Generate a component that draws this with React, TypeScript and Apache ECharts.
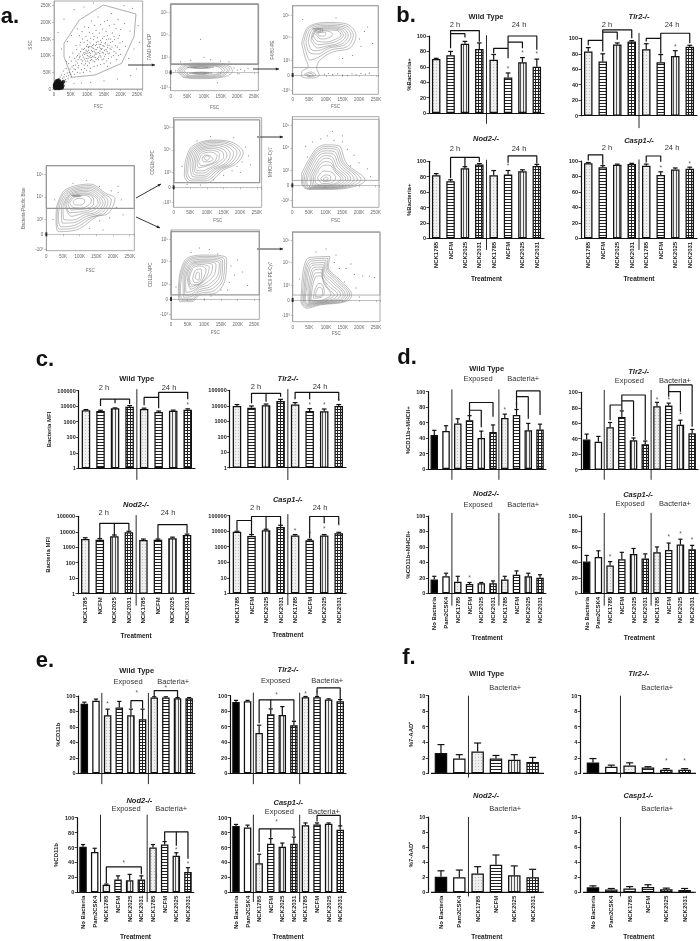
import React, { useEffect, useRef } from "react";
import * as echarts from "echarts";

const SANS = "Liberation Sans, Arial, sans-serif";

// ---------- categories ----------
const catsStrains = ["NCK1785", "NCFM", "NCK2025", "NCK2031", "NCK1785", "NCFM", "NCK2025", "NCK2031"];
const catsControls = ["No Bacteria", "Pam2CSK4", "NCK1785", "NCFM", "NCK2025", "NCK2031", "NCK1785", "NCFM", "NCK2025", "NCK2031"];
const catsShort = ["No Bacteria", "Pam2CSK4", "NCK1785", "NCFM", "NCK2025", "NCK2031"];

// ---------- b. %Bacteria+ ----------
const bWtMeans = [70, 75, 90, 83, 69, 46, 66, 60];
const bWtTops = [71, 80, 93, 91, 76, 52, 72, 70];
const bWtBrackets = [[[1, 84], [1, 107], [3, 107], [3, 92.6]], [[1, 103], [2, 103], [2, 98]], [[4, 77.5], [4, 84], [5, 84]], [[5, 71], [5, 100], [7, 100], [7, 82]], [[5, 92], [6, 92], [6, 84]]];
const bWtStars = [[5, 58], [6, 78], [7, 77]];
const bTlrMeans = [83, 70, 92, 96, 86, 69, 77, 89];
const bTlrTops = [88, 80, 94, 97, 93, 79, 84, 91];
const bTlrBrackets = [[[0, 91], [0, 97.4], [1, 97.4]], [[1, 83], [1, 111], [3, 111], [3, 100]], [[1, 108], [2, 108], [2, 98]], [[4, 96], [4, 100], [5, 100]], [[5, 80], [5, 106.5], [7, 106.5], [7, 93.5]]];
const bTlrStars = [[6, 90]];
const bNodMeans = [82, 74, 91, 96, 82, 83, 87, 94];
const bNodTops = [84, 76, 93, 97, 88, 88, 89, 96];
const bNodBrackets = [[[1, 78], [1, 105], [3, 105], [3, 99]], [[2, 105], [2, 93]], [[5, 98], [5, 107], [7, 107], [7, 97]]];
const bNodStars = [[5, 94]];
const bCasMeans = [97, 92, 95, 96, 94, 82, 89, 90];
const bCasTops = [98, 94, 96, 97, 96, 86, 91, 92];
const bCasBrackets = [[[0, 100.5], [0, 108], [1, 108], [1, 95]], [[4, 98], [4, 106.5], [5, 106.5], [5, 99]]];
const bCasStars = [[5, 91], [7, 97]];

// ---------- c. Bacteria MFI ----------
const cWtMeans = [5400, 4900, 7300, 9300, 6600, 4200, 5100, 6000];
const cWtTops = [6100, 5500, 7800, 11000, 7500, 4900, 5600, 6800];
const cWtBrackets = [[[1, 10300], [1, 29000], [3, 29000], [3, 13900]], [[2, 29000], [2, 15300]], [[4, 11400], [4, 37000], [5, 37000]], [[5, 7300], [5, 78000], [7, 78000], [7, 27700]]];
const cWtStars = [[7, 12000]];
const cTlrMeans = [9700, 7600, 10900, 20000, 12000, 4600, 4400, 9700];
const cTlrTops = [12000, 9700, 13000, 26000, 16000, 6500, 6200, 12000];
const cTlrBrackets = [[[1, 14400], [1, 64000], [3, 64000], [3, 39000]], [[2, 64000], [2, 18500]], [[4, 30000], [4, 74000], [7, 74000], [7, 21500]], [[5, 74000], [5, 26000]]];
const cTlrStars = [[4, 26000], [5, 11300], [6, 11300], [7, 20400]];
const cNodMeans = [3400, 3100, 5100, 9300, 2900, 3100, 3800, 6200];
const cNodTops = [4100, 3600, 6200, 10800, 3400, 3400, 4500, 7100];
const cNodBrackets = [[[1, 3800], [1, 35000], [3, 35000], [3, 11800]], [[2, 35000], [2, 6200]], [[5, 3600], [5, 29000], [7, 29000], [7, 7900]]];
const cNodStars: number[][] = [];
const cCasMeans = [9100, 5000, 11600, 19000, 5300, 2600, 5300, 7400];
const cCasTops = [10000, 6100, 13400, 24000, 6100, 3000, 6100, 8500];
const cCasBrackets = [[[0, 11000], [0, 49000], [1, 49000]], [[1, 6000], [1, 89000], [3, 89000], [3, 20000]], [[2, 89000], [2, 14100]], [[5, 3500], [5, 89000], [7, 89000], [7, 28000]], [[6, 89000], [6, 33000]]];
const cCasStars = [[4, 11000], [5, 6800], [6, 14000], [7, 22000]];

// ---------- d. %CD11b+MHCII+ ----------
const dWtMeans = [44, 49, 59, 63, 40, 48, 66, 70, 50, 51];
const dWtTops = [50, 56, 65, 69, 49, 57, 71, 77, 59, 58];
const dWtBrackets = [[[3, 70], [3, 86], [5, 86], [5, 67.7]], [[3, 76], [4, 76], [4, 54]], [[7, 78], [7, 101], [9, 101], [9, 70]], [[7, 93.5], [8, 93.5], [8, 65]]];
const dWtStars = [[6, 77], [7, 83.6]];
const dTlrMeans = [39, 36, 55, 68, 38, 33, 82, 83, 58, 47];
const dTlrTops = [46, 43, 61, 76, 41, 37, 87, 86, 64, 52];
const dTlrBrackets = [[[2, 64], [2, 83.6], [3, 83.6]], [[3, 77], [3, 96.5], [5, 96.5], [5, 38]], [[3, 88.8], [4, 88.8], [4, 43.5]], [[7, 94.4], [7, 109.5], [9, 109.5], [9, 55.6]], [[7, 101], [8, 101], [8, 75]]];
const dTlrStars = [[6, 91], [7, 91], [8, 71]];
const dNodMeans = [18, 22, 15, 12, 13, 13, 18, 24, 22, 20];
const dNodTops = [22, 26, 22, 14, 14, 16, 22, 29, 26, 24];
const dNodBrackets: number[][][] = [];
const dNodStars = [[3, 20.7]];
const dCasMeans = [41, 47, 36, 44, 51, 45, 53, 56, 63, 57];
const dCasTops = [49, 55, 41, 53, 58, 51, 60, 65, 70, 62];
const dCasBrackets: number[][][] = [];
const dCasStars = [[2, 47], [7, 73], [8, 77.6], [9, 69]];

// ---------- e. %CD11b ----------
const eWtMeans = [90, 94, 75, 85, 75, 70, 98, 98, 97, 97];
const eWtTops = [92, 96, 83, 93, 83, 83, 99, 99, 98, 98];
const eWtBrackets = [[[4, 84], [4, 94], [5, 94], [5, 84]], [[6, 99], [6, 107], [8, 107], [8, 98]]];
const eWtStars = [[4.5, 105], [2, 90.5], [7, 111]];
const eTlrMeans = [92, 93, 52, 76, 75, 62, 98, 98, 95, 93];
const eTlrTops = [94, 94, 62, 83, 86, 67, 99, 99, 96, 95];
const eTlrBrackets = [[[2, 64.5], [2, 94.7], [5, 94.7], [5, 67.7]], [[3, 94.7], [3, 83.7]], [[7, 100], [7, 110], [9, 110], [9, 95]]];
const eTlrStars = [[3.5, 101], [6, 103], [7, 104]];
const eNodMeans = [61, 54, 10, 17, 16, 17, 60, 64, 49, 27];
const eNodTops = [64, 59, 11, 22, 24, 22, 64, 68, 53, 33];
const eNodBrackets = [[[2, 12], [2, 34], [5, 34], [5, 24]], [[7, 69], [7, 81], [9, 81], [9, 45]], [[8, 81], [8, 62.5]]];
const eNodStars = [[3.5, 40], [8, 57], [9, 39]];
const eCasMeans = [89, 87, 39, 65, 61, 65, 90, 91, 92, 84];
const eCasTops = [91, 90, 51, 72, 66, 74, 93, 93, 93, 89];
const eCasBrackets = [[[2, 54], [2, 85], [5, 85], [5, 75.5]], [[3, 85], [3, 73]], [[7, 95], [7, 103], [9, 103], [9, 89]]];
const eCasStars = [[3.5, 95]];

// ---------- f. %7-AAD+ ----------
const fWtMeans = [2.6, 1.9, 2.8, 1.9, 1.75, 1.45];
const fWtTops = [3.7, 2.4, 3.9, 2.3, 2.4, 2.05];
const fTlrMeans = [1.4, 0.85, 1.0, 0.75, 0.45, 0.45];
const fTlrTops = [1.9, 1.05, 1.35, 0.85, 0.6, 0.6];
const fTlrStars = [[4, 1.6], [5, 1.6]];
const fNodMeans = [2.05, 2.0, 2.5, 3.65, 2.25, 2.0];
const fNodTops = [2.85, 2.95, 3.4, 4.95, 3.5, 3.05];
const fCasMeans = [0.65, 0.35, 0.5, 0.7, 0.4, 0.3];
const fCasTops = [0.85, 0.5, 0.75, 1.0, 0.55, 0.5];

// ---------- a. flow cytometry panels (x in thousands of FSC, y in display decades) ----------
const p1Gate = [[30, 137], [76, 207], [148, 252], [246, 225], [240, 157], [203, 77], [123, 42], [53, 35], [30, 97], [30, 137]];
const p1Points = [[62, 92], [70, 78], [75, 105], [81, 88], [84, 120], [88, 96], [90, 72], [93, 110], [95, 84], [98, 128], [100, 100], [102, 92], [104, 116], [106, 78], [108, 138], [110, 106], [112, 88], [114, 124], [116, 98], [118, 148], [120, 112], [122, 82], [124, 130], [126, 104], [128, 118], [130, 92], [132, 142], [134, 110], [136, 126], [138, 100], [140, 134], [142, 118], [144, 88], [146, 152], [148, 108], [150, 128], [152, 98], [154, 140], [156, 118], [158, 84], [160, 132], [162, 106], [164, 150], [168, 122], [172, 96], [176, 142], [180, 112], [184, 130], [188, 88], [192, 152], [196, 118], [200, 104], [78, 132], [68, 118], [58, 70], [52, 84], [48, 60], [44, 76], [40, 48], [36, 62], [32, 44], [28, 54], [26, 32], [22, 42], [20, 26], [18, 36], [34, 28], [42, 32], [50, 44], [56, 52], [64, 58], [72, 64], [82, 58], [92, 62], [100, 70], [110, 62], [120, 68], [130, 70], [140, 74], [150, 76], [160, 68], [170, 78], [86, 150], [96, 158], [106, 170], [116, 166], [126, 176], [136, 168], [146, 180], [156, 172], [166, 190], [176, 168], [186, 182], [196, 160], [206, 142], [214, 128], [92, 186], [112, 204], [132, 216], [152, 202], [172, 226], [192, 208], [212, 196], [228, 174], [240, 120], [224, 92], [70, 180], [52, 160], [40, 142], [22, 120], [12, 170], [30, 210], [60, 238], [90, 246], [118, 258], [210, 250], [236, 242], [252, 190], [256, 140], [248, 60], [230, 40], [190, 30], [150, 24], [110, 20], [82, 18], [60, 16], [104, 124], [108, 94], [112, 116], [96, 106], [92, 122], [100, 134], [120, 96], [124, 108], [128, 134], [116, 130], [134, 96], [138, 114], [144, 122], [88, 108], [76, 94], [70, 100], [66, 84], [118, 122], [102, 108], [110, 100], [126, 88], [106, 128],
  [64, 72], [67, 96], [72, 88], [74, 70], [78, 98], [80, 112], [83, 76], [85, 102], [86, 84], [89, 118], [91, 90], [92, 104], [94, 76], [96, 116], [97, 92], [99, 112], [101, 84], [103, 126], [105, 98], [107, 110], [109, 86], [111, 128], [113, 94], [115, 112], [117, 84], [119, 134], [121, 102], [123, 118], [125, 94], [127, 140], [129, 108], [131, 124], [133, 88], [135, 134], [137, 106], [139, 122], [141, 96], [143, 140], [145, 110], [147, 130], [149, 90], [151, 116], [153, 136], [155, 104], [157, 148], [159, 112], [161, 124], [163, 92], [165, 130], [167, 108], [169, 140], [171, 118], [174, 126], [178, 100], [182, 148], [186, 108], [190, 126], [194, 100], [198, 138], [60, 60], [54, 66], [46, 50], [38, 38], [30, 36], [24, 24], [28, 20], [36, 22], [44, 40], [52, 36], [62, 44], [70, 50], [78, 48], [88, 50], [98, 56], [108, 52], [80, 140], [90, 140], [100, 146], [110, 152], [120, 158], [130, 154], [140, 146], [150, 158], [160, 160], [170, 150], [180, 158], [66, 130], [56, 108], [46, 96], [38, 82], [76, 160], [84, 172], [104, 184], [122, 190], [140, 194], [160, 206], [180, 194], [200, 178]];
const p1Cluster = [[2, 4], [4, 8], [6, 2], [6, 12], [8, 6], [8, 16], [10, 3], [10, 10], [10, 20], [12, 6], [12, 14], [14, 2], [14, 10], [14, 18], [16, 6], [16, 14], [18, 3], [18, 10], [20, 16], [20, 6], [22, 12], [24, 4], [4, 16], [2, 12], [8, 24], [14, 26], [24, 18], [26, 10], [28, 22], [5, 5], [7, 9], [9, 13], [11, 8], [13, 12], [15, 4], [17, 8], [19, 13], [21, 9], [11, 17], [6, 20], [16, 21], [3, 10], [23, 7], [12, 24]];
const p2Contours = [
  [[21, 0.1], [40, 0.55], [90, 0.62], [150, 0.6], [180, 0.35], [185, 0.05], [160, -0.3], [90, -0.42], [40, -0.35]],
  [[30, 0.1], [50, 0.48], [100, 0.52], [150, 0.45], [170, 0.15], [150, -0.2], [90, -0.32], [45, -0.25]],
  [[26, 0.12], [45, 0.5], [95, 0.58], [150, 0.52], [176, 0.22], [156, -0.25], [90, -0.37], [42, -0.3]],
  [[35, 0.1], [55, 0.44], [100, 0.48], [145, 0.42], [162, 0.14], [142, -0.16], [90, -0.27], [50, -0.22]],
  [[40, 0.1], [60, 0.4], [100, 0.45], [140, 0.38], [155, 0.12], [135, -0.12], [90, -0.22], [55, -0.18]],
  [[50, 0.32], [90, 0.42], [130, 0.35], [90, 0.25]], [[60, 0.33], [90, 0.38], [120, 0.33], [90, 0.28]], [[68, 0.33], [90, 0.36], [112, 0.33], [90, 0.3]],
  [[55, -0.05], [90, -0.15], [125, -0.05], [90, 0.02]], [[65, -0.06], [90, -0.1], [115, -0.06], [90, -0.02]], [[72, -0.06], [90, -0.09], [108, -0.06], [90, -0.04]],
];
const p2Points = [[90, 2.2], [190, 0.3], [200, 0.15], [210, 0.2], [222, 0.1], [232, 0.25], [60, 0.8], [120, 0.85], [150, 0.75], [30, 0.7], [100, 1], [175, 0.7], [15, 0.1], [205, -0.1], [140, -0.7]];
const p3Contours = [
  [[27, 2.1], [47, 3.2], [107, 3.5], [162, 3.4], [190, 2.65], [172, 1.8], [122, 1.55], [82, 1.0], [72, 0.45], [80, 0], [57, -0.2], [27, -0.1], [27, 0.2], [47, 0.55], [37, 1.2]],
  [[33, 2.15], [50, 3.15], [106, 3.4], [158, 3.3], [182, 2.65], [164, 1.9], [116, 1.68], [78, 1.2], [52, 1.0], [42, 1.4]],
  [[40, 2.2], [55, 3.1], [105, 3.3], [155, 3.2], [175, 2.65], [155, 2.0], [110, 1.8], [75, 1.4], [50, 1.5]],
  [[47, 2.25], [60, 3.05], [105, 3.22], [150, 3.12], [167, 2.65], [148, 2.08], [108, 1.88], [75, 1.62], [55, 1.72]],
  [[55, 2.3], [65, 3.0], [105, 3.15], [145, 3.05], [160, 2.65], [140, 2.15], [105, 1.95], [75, 1.8]],
  [[58, 2.45], [70, 3.0], [105, 3.08], [140, 3.0], [152, 2.65], [132, 2.25], [102, 2.08], [75, 2.02]],
  [[62, 2.6], [75, 3.0], [105, 3.0], [135, 2.95], [145, 2.65], [125, 2.35], [100, 2.2], [75, 2.25]],
  [[70, 2.7], [85, 2.95], [110, 2.9], [120, 2.7], [105, 2.45], [85, 2.4]],
  [[75, 2.75], [85, 2.85], [100, 2.8], [95, 2.6], [80, 2.6]],
  [[35, 0.05], [55, 0.2], [70, 0], [50, -0.12]], [[42, 0.02], [55, 0.1], [62, 0], [50, -0.06]],
  [[60, 3.1], [90, 3.1], [90, 2.9], [70, 2.85]], [[66, 3.05], [84, 3.05], [84, 2.93], [72, 2.92]],
];
const p3Points = [[95, 0.05], [108, 0.1], [120, 0.02], [135, 0.08], [150, 0.0], [165, -0.05], [178, 0.08], [190, 0.02], [205, 0.1], [218, 0.05], [230, 0.12], [200, 2.4], [215, 2.9], [225, 3.2], [205, 1.9], [180, 1.3], [150, 1.1], [240, 2.1], [30, 3.7], [130, 3.8]];
const p4Contours = [
  [[31, 1.85], [56, 2.95], [131, 3.35], [181, 2.7], [206, 2.4], [186, 1.4], [151, 1.18], [91, 0.3], [36, 0.18], [29, 1.18]],
  [[35, 1.88], [59, 2.88], [130, 3.25], [176, 2.65], [195, 2.3], [175, 1.4], [138, 1.14], [88, 0.45], [40, 0.34], [32, 1.19]],
  [[40, 1.9], [62, 2.8], [128, 3.15], [172, 2.6], [185, 2.2], [165, 1.4], [125, 1.1], [85, 0.6], [45, 0.5], [36, 1.2]],
  [[45, 1.9], [66, 2.75], [126, 3.05], [166, 2.55], [177, 2.15], [157, 1.45], [120, 1.2], [82, 0.78], [48, 0.75]],
  [[50, 1.9], [70, 2.7], [125, 2.95], [160, 2.5], [170, 2.1], [150, 1.5], [115, 1.3], [80, 0.95], [52, 1.0]],
  [[55, 1.95], [72, 2.65], [122, 2.85], [155, 2.45], [162, 2.08], [140, 1.58], [108, 1.4], [75, 1.2]],
  [[60, 2.0], [75, 2.6], [120, 2.75], [150, 2.4], [155, 2.05], [130, 1.65], [100, 1.5], [70, 1.45]],
  [[65, 2.05], [80, 2.55], [118, 2.68], [142, 2.35], [142, 2.02], [118, 1.7], [90, 1.65], [75, 1.62]],
  [[70, 2.1], [85, 2.5], [115, 2.6], [135, 2.3], [130, 2.0], [105, 1.75], [80, 1.8]],
  [[80, 2.2], [95, 2.4], [112, 2.35], [115, 2.15], [100, 1.95], [85, 2.0]],
  [[75, 2.6], [90, 2.62], [105, 2.55], [90, 2.5]], [[80, 2.58], [90, 2.6], [100, 2.55], [90, 2.52]],
];
const p4Points = [[195, 2.9], [215, 2.8], [225, 2.3], [210, 1.8], [190, 1.1], [160, 0.9], [130, 0.4], [80, 3.4], [120, 3.6], [160, 3.2], [25, 2.3], [20, 1.0], [170, 0.3], [230, 1.3], [215, 3.2]];
const p5Contours = [
  [[34, 1.6], [54, 2.7], [119, 3.15], [169, 3.05], [209, 2.3], [189, 1.6], [149, 1.15], [99, 0.31], [49, 0.31], [32, 0.82]],
  [[39, 1.6], [57, 2.62], [118, 3.08], [167, 2.95], [200, 2.3], [180, 1.6], [142, 1.18], [95, 0.43], [52, 0.43], [37, 0.9]],
  [[44, 1.6], [60, 2.55], [118, 3.0], [165, 2.85], [190, 2.3], [172, 1.6], [135, 1.2], [92, 0.55], [55, 0.55], [42, 1.0]],
  [[49, 1.6], [64, 2.5], [118, 2.9], [160, 2.75], [180, 2.25], [163, 1.6], [128, 1.22], [90, 0.68], [58, 0.7]],
  [[55, 1.6], [68, 2.45], [118, 2.8], [155, 2.65], [170, 2.2], [155, 1.6], [122, 1.25], [90, 0.8], [62, 0.85]],
  [[60, 1.62], [72, 2.4], [115, 2.7], [150, 2.52], [160, 2.12], [142, 1.6], [115, 1.28], [88, 0.95], [65, 1.0]],
  [[65, 1.65], [76, 2.35], [112, 2.6], [145, 2.4], [150, 2.05], [130, 1.6], [108, 1.3], [85, 1.1], [68, 1.15]],
  [[70, 1.68], [80, 2.28], [110, 2.48], [137, 2.25], [136, 1.88], [115, 1.55], [95, 1.4], [75, 1.3]],
  [[75, 1.7], [85, 2.2], [110, 2.35], [130, 2.1], [122, 1.7], [100, 1.5], [82, 1.45]],
  [[85, 1.9], [95, 2.15], [110, 2.1], [118, 1.85], [100, 1.7], [90, 1.7]],
  [[90, 1.95], [98, 2.1], [108, 2.0], [100, 1.8]],
];
const p5Points = [[215, 2.7], [205, 1.7], [225, 2.1], [190, 1.4], [175, 1.1], [150, 0.8], [120, 0.5], [230, 1.5], [70, 3.1], [110, 3.4], [180, 3.3], [25, 1.4], [40, 0.2], [80, 0.15], [200, 1.0]];
const p6Contours = [
  [[28, 0.8], [68, 2.35], [98, 2.7], [138, 2.65], [163, 1.45], [218, 0.35], [183, -0.1], [113, -0.27], [48, -0.27], [28, 0.13]],
  [[33, 0.75], [69, 2.22], [98, 2.58], [134, 2.52], [156, 1.45], [206, 0.38], [176, -0.06], [111, -0.23], [49, -0.23], [31, 0.14]],
  [[38, 0.7], [70, 2.1], [98, 2.45], [130, 2.4], [150, 1.45], [195, 0.4], [170, -0.02], [110, -0.2], [50, -0.2], [35, 0.15]],
  [[43, 0.68], [72, 1.98], [98, 2.3], [126, 2.25], [145, 1.38], [185, 0.42], [162, -0.01], [108, -0.16], [52, -0.16], [40, 0.18]],
  [[48, 0.65], [75, 1.85], [98, 2.15], [122, 2.1], [140, 1.3], [175, 0.45], [155, 0.0], [105, -0.13], [55, -0.12], [44, 0.2]],
  [[53, 0.62], [78, 1.68], [98, 1.98], [118, 1.92], [135, 1.2], [167, 0.45], [148, 0.03], [102, -0.1], [58, -0.07]],
  [[58, 0.6], [80, 1.5], [98, 1.8], [115, 1.75], [130, 1.1], [160, 0.45], [140, 0.05], [100, -0.06], [62, -0.02]],
  [[63, 0.58], [82, 1.35], [99, 1.58], [115, 1.52], [130, 0.98], [152, 0.45], [132, 0.08], [98, -0.02], [67, 0.04]],
  [[68, 0.55], [85, 1.2], [100, 1.35], [115, 1.3], [130, 0.85], [145, 0.45], [125, 0.1], [95, 0.03], [72, 0.1]],
  [[75, 0.5], [95, 0.95], [120, 0.85], [130, 0.5], [115, 0.15], [90, 0.12]],
  [[85, 0.45], [100, 0.7], [115, 0.6], [115, 0.35], [95, 0.25]],
  [[92, 0.42], [102, 0.55], [108, 0.42], [98, 0.33]],
];
const p6Points = [[60, 2.9], [85, 3.1], [105, 3.3], [125, 3], [150, 2.9], [165, 2.4], [185, 2], [200, 1.5], [225, 1.1], [150, 3.3], [45, 1.9], [40, 2.6], [175, 1.3], [235, 0.6], [120, 3.6]];
const p7Contours = [
  [[25, 1.5], [47, 2.7], [107, 2.93], [167, 2.7], [162, 1.27], [132, 0.38], [87, 0.27], [62, -0.18], [27, -0.18], [22, 0.6]],
  [[28, 1.5], [50, 2.62], [106, 2.84], [161, 2.62], [157, 1.36], [128, 0.54], [86, 0.38], [61, -0.09], [31, -0.09], [25, 0.6]],
  [[32, 1.5], [52, 2.55], [105, 2.75], [155, 2.55], [152, 1.45], [125, 0.7], [85, 0.5], [60, 0], [35, 0.0], [28, 0.6]],
  [[36, 1.5], [55, 2.48], [102, 2.65], [150, 2.48], [146, 1.5], [118, 0.82], [85, 0.62], [60, 0.15], [38, 0.12]],
  [[40, 1.5], [58, 2.4], [100, 2.55], [145, 2.4], [140, 1.55], [112, 0.95], [85, 0.75], [60, 0.3], [42, 0.25]],
  [[44, 1.5], [60, 2.32], [98, 2.48], [135, 2.32], [130, 1.62], [106, 1.08], [85, 0.85], [60, 0.48], [45, 0.45]],
  [[48, 1.5], [62, 2.25], [95, 2.4], [125, 2.25], [120, 1.7], [100, 1.2], [85, 0.95], [60, 0.65]],
  [[52, 1.45], [65, 2.18], [92, 2.3], [115, 2.1], [108, 1.55], [90, 1.08], [72, 0.9], [60, 0.8]],
  [[55, 1.4], [68, 2.1], [90, 2.2], [105, 1.95], [95, 1.3], [80, 0.95], [62, 0.95]],
  [[65, 1.4], [75, 1.95], [90, 2.0], [92, 1.5], [80, 1.1], [70, 1.1]],
  [[72, 1.4], [80, 1.8], [86, 1.7], [82, 1.25]],
];
const p7Points = [[180, 2.2], [190, 1.6], [175, 1.1], [200, 2.6], [150, 0.6], [120, 0.2], [60, 3.1], [115, 3.3], [170, 0.6], [15, 0.8], [100, 0], [215, 1.8], [140, 3], [230, 0.9], [85, 3.4]];
const p8Contours = [
  [[27, 0.9], [47, 2.8], [112, 2.9], [107, 2.2], [142, 1.33], [177, 0.33], [162, -0.1], [82, -0.33], [42, -0.55], [25, -0.1]],
  [[31, 0.88], [50, 2.68], [106, 2.78], [104, 2.15], [136, 1.32], [171, 0.34], [156, -0.08], [81, -0.29], [42, -0.46], [28, -0.08]],
  [[35, 0.85], [52, 2.55], [100, 2.65], [100, 2.1], [130, 1.3], [165, 0.35], [150, -0.05], [80, -0.25], [42, -0.38], [32, -0.05]],
  [[38, 0.82], [55, 2.42], [96, 2.5], [96, 1.98], [124, 1.25], [158, 0.35], [144, -0.02], [80, -0.21], [44, -0.31], [35, 0.0]],
  [[42, 0.8], [58, 2.3], [92, 2.35], [92, 1.85], [118, 1.2], [152, 0.35], [138, 0.0], [80, -0.18], [45, -0.25], [38, 0.05]],
  [[46, 0.78], [62, 2.15], [88, 2.2], [91, 1.68], [112, 1.1], [144, 0.35], [130, 0.03], [80, -0.14], [47, -0.18]],
  [[50, 0.75], [65, 2.0], [85, 2.05], [90, 1.5], [105, 1.0], [135, 0.35], [120, 0.05], [80, -0.1], [50, -0.12]],
  [[54, 0.72], [68, 1.8], [85, 1.82], [92, 1.28], [110, 0.68], [125, 0.35], [110, 0.08], [79, -0.06], [52, -0.05]],
  [[58, 0.7], [72, 1.6], [85, 1.6], [95, 1.05], [115, 0.35], [100, 0.1], [78, -0.03], [55, 0.02]],
  [[65, 0.55], [78, 1.1], [88, 1.05], [95, 0.5], [82, 0.15], [62, 0.12]],
  [[70, 0.5], [79, 0.85], [87, 0.8], [90, 0.45], [80, 0.22], [68, 0.22]],
];
const p8Points = [[125, 2.5], [140, 2.1], [160, 2.1], [185, 1.7], [210, 1.6], [230, 1.6], [155, 1.2], [190, 0.8], [70, 3.2], [100, 3.4], [130, 3], [20, 1.4], [200, 0.2], [245, 1.5], [175, 2.4]];

const gold = { stroke: "#111", w: 1.2 };

const tickDecades = [-1, 0, 1, 2.5, 4];
const tickDecadeLabels: Record<string, string> = { "-1": "-10³", "0": "0", "1": "10³", "2.5": "10⁴", "4": "10⁵" };

function makePattern(kind: string) {
  const c = document.createElement("canvas");
  c.width = 3;
  c.height = 3;
  const g = c.getContext("2d")!;
  g.fillStyle = kind === "white" || kind === "h" || kind === "grid" ? "#fff" : "#efefef";
  g.fillRect(0, 0, 3, 3);
  g.fillStyle = "#222";
  if (kind === "h" || kind === "grid") g.fillRect(0, 1, 3, 1);
  if (kind === "v") {
    g.fillStyle = "#555";
    g.fillRect(1, 0, 1, 3);
  }
  if (kind === "grid") g.fillRect(1, 0, 1, 3);
  if (kind === "dots") {
    g.fillStyle = "#bdbdbd";
    g.fillRect(1, 1, 1, 1);
  }
  return { image: c, repeat: "repeat" };
}

function buildOption() {
  const patterns: Record<string, any> = {
    "No Bacteria": "#000",
    Pam2CSK4: "#fff",
    NCK1785: makePattern("dots"),
    NCFM: makePattern("h"),
    NCK2025: makePattern("v"),
    NCK2031: makePattern("grid"),
  };
  const grid: any[] = [], xAxis: any[] = [], yAxis: any[] = [], series: any[] = [], title: any[] = [], graphic: any[] = [];

  const text = (t: string, x: number, y: number, o: any = {}) =>
    graphic.push({ type: "text", silent: true, x, y, style: { text: t, fontFamily: SANS, fontSize: 7.5, fill: "#333", align: "center", verticalAlign: "middle", ...o } });
  const ttl = (t: string, x: number, y: number, italic = false) =>
    title.push({ text: t, left: x, top: y - 4.5, textAlign: "center", padding: 0, textStyle: { fontFamily: SANS, fontSize: 7.5, fontWeight: "bold", fontStyle: italic ? "italic" : "normal", color: "#222" } });

  function barPanel(p: any) {
    const g = grid.length;
    grid.push({ left: p.left, top: p.top, width: p.right - p.left, height: p.bottom - p.top });
    const ix = xAxis.length;
    const log = !!p.log;
    xAxis.push({
      type: "category", gridIndex: g, data: p.cats,
      name: p.showLabels ? "Treatment" : "", nameLocation: "middle", nameGap: p.xGap ?? 38,
      nameTextStyle: { fontFamily: SANS, fontSize: 6.5, fontWeight: "bold", color: "#222" },
      axisLine: { lineStyle: { color: "#111", width: 1.2 }, onZero: false },
      axisTick: { alignWithLabel: true, length: 2.5, lineStyle: { color: "#111", width: 0.8 } },
      axisLabel: { show: !!p.showLabels, interval: 0, rotate: 90, margin: 3.5, fontFamily: SANS, fontSize: 6, fontWeight: "bold", color: "#222" },
    });
    const ox = xAxis.length;
    xAxis.push({ type: "value", gridIndex: g, min: -0.5, max: p.cats.length - 0.5, show: false });
    yAxis.push({
      type: log ? "log" : "value", logBase: 10, gridIndex: g, min: p.min ?? (log ? 1 : 0), max: p.max, ...(log ? {} : { interval: p.interval }),
      offset: p.yOffset ?? 0,
      name: p.yName ?? "", nameLocation: "middle", nameGap: p.yGap, nameRotate: 90,
      nameTextStyle: { fontFamily: SANS, fontSize: 6, fontWeight: "bold", color: "#222" },
      axisLine: { show: true, onZero: false, lineStyle: { color: "#111", width: 1.2 } },
      axisTick: { show: true, length: 2.5, lineStyle: { color: "#111", width: 0.8 } },
      axisLabel: { margin: 3, fontFamily: SANS, fontSize: 5.5, fontWeight: "bold", color: "#222", formatter: (v: number) => String(v) },
      splitLine: { show: false }, minorTick: { show: false },
    });
    const iy = yAxis.length - 1;
    series.push({
      type: "bar", xAxisIndex: ix, yAxisIndex: iy, barWidth: p.barW, silent: true, z: 2,
      data: p.means.map((v: number, i: number) => ({ value: v, itemStyle: { color: patterns[p.cats[i]], borderColor: "#111", borderWidth: 1.25 } })),
    });
    const cap = p.barW * 0.28;
    series.push({
      type: "custom", xAxisIndex: ox, yAxisIndex: iy, silent: true, z: 3,
      encode: { x: 0, y: [1, 2] },
      data: p.means.map((v: number, i: number) => [i, v, p.tops[i]]),
      renderItem: (_: any, api: any) => {
        const a = api.coord([api.value(0), api.value(1)]);
        const b = api.coord([api.value(0), api.value(2)]);
        const style = { stroke: "#111", lineWidth: 1.2 };
        return {
          type: "group",
          children: [
            { type: "line", shape: { x1: a[0], y1: a[1], x2: b[0], y2: b[1] }, style },
            { type: "line", shape: { x1: b[0] - cap, y1: b[1], x2: b[0] + cap, y2: b[1] }, style },
          ],
        };
      },
    });
    const addLine = (pts: number[][], w = gold.w) =>
      series.push({ type: "line", xAxisIndex: ox, yAxisIndex: iy, data: pts, showSymbol: false, symbol: "none", clip: false, silent: true, z: 4, lineStyle: { color: gold.stroke, width: w } });
    (p.brackets ?? []).forEach((b: number[][]) => addLine(b));
    (p.seps ?? []).forEach((s: number[]) => addLine([[s[0], s[1]], [s[0], s[2]]], 0.9));
    if (p.baseline) addLine(p.baseline);
    if (p.stars?.length) {
      series.push({
        type: "scatter", xAxisIndex: ox, yAxisIndex: iy, data: p.stars, symbolSize: 1, clip: false, silent: true, z: 5,
        itemStyle: { color: "transparent" },
        label: { show: true, position: "inside", formatter: "*", fontFamily: SANS, fontSize: 6.5, color: "#333" },
      });
    }
  }

  // panel b
  const bCommon = { cats: catsStrains, max: 100, interval: 20, barW: 8.5 };
  barPanel({ ...bCommon, left: 429, right: 544, top: 36, bottom: 113, means: bWtMeans, tops: bWtTops, brackets: bWtBrackets, stars: bWtStars, yName: "%Bacteria+", yGap: 17, seps: [[3.5, 101, -14]] });
  barPanel({ ...bCommon, left: 581, right: 697, top: 38.3, bottom: 115.7, means: bTlrMeans, tops: bTlrTops, brackets: bTlrBrackets, stars: bTlrStars, seps: [[3.5, 107, -16]] });
  barPanel({ ...bCommon, left: 429, right: 544, top: 161.3, bottom: 238.3, means: bNodMeans, tops: bNodTops, brackets: bNodBrackets, stars: bNodStars, yName: "%Bacteria+", yGap: 17, seps: [[3.5, 102, -15]], showLabels: true, xGap: 37 });
  barPanel({ ...bCommon, left: 581, right: 697, top: 161, bottom: 238.3, means: bCasMeans, tops: bCasTops, brackets: bCasBrackets, stars: bCasStars, seps: [[3.5, 102, -15]], showLabels: true, xGap: 37 });
  ttl("Wild Type", 486, 17); text("2 h", 455, 24); text("24 h", 519, 24);
  ttl("Tlr2-/-", 639, 17, true); text("2 h", 607, 24); text("24 h", 672, 24);
  ttl("Nod2-/-", 486, 139, true); text("2 h", 455, 148); text("24 h", 519, 148);
  ttl("Casp1-/-", 639, 141, true); text("2 h", 607, 147); text("24 h", 672, 147);

  // panel c
  const cCommon = { cats: catsStrains, log: true, max: 100000, barW: 8.5 };
  barPanel({ ...cCommon, left: 78.7, right: 195, top: 390.7, bottom: 468.3, means: cWtMeans, tops: cWtTops, brackets: cWtBrackets, stars: cWtStars, yName: "Bacteria MFI", yGap: 27, seps: [[3.5, 126000, 0.18]] });
  barPanel({ ...cCommon, left: 229.7, right: 346, top: 390.3, bottom: 467.7, means: cTlrMeans, tops: cTlrTops, brackets: cTlrBrackets, stars: cTlrStars, seps: [[3.5, 120000, 0.16]] });
  barPanel({ ...cCommon, left: 78, right: 194.3, top: 516.3, bottom: 593.7, means: cNodMeans, tops: cNodTops, brackets: cNodBrackets, stars: cNodStars, yName: "Bacteria MFI", yGap: 27, seps: [[3.5, 120000, 0.17]], showLabels: true, xGap: 38 });
  barPanel({ ...cCommon, left: 229.7, right: 346, top: 515.7, bottom: 593.3, means: cCasMeans, tops: cCasTops, brackets: cCasBrackets, stars: cCasStars, seps: [[3.5, 126000, 0.175]], showLabels: true, xGap: 38 });
  ttl("Wild Type", 136.7, 378.7); text("2 h", 104, 387); text("24 h", 169, 387);
  ttl("Tlr2-/-", 288, 378.7, true); text("2 h", 256, 386.7); text("24 h", 320, 386.7);
  ttl("Nod2-/-", 136, 505, true); text("2 h", 103.7, 512.3); text("24 h", 168, 512.3);
  ttl("Casp1-/-", 287.7, 500, true); text("2 h", 255.3, 507.7); text("24 h", 320, 507.7);

  // panel d
  const dCommon = { cats: catsControls, max: 100, interval: 20, barW: 7.5 };
  barPanel({ ...dCommon, left: 428.4, right: 545.9, top: 391.7, bottom: 469, means: dWtMeans, tops: dWtTops, brackets: dWtBrackets, stars: dWtStars, yName: "%CD11b+MHCII+", yGap: 17, seps: [[1.5, 103, -14], [5.5, 103, -14]] });
  barPanel({ ...dCommon, left: 580.8, right: 698, top: 392.3, bottom: 469.7, means: dTlrMeans, tops: dTlrTops, brackets: dTlrBrackets, stars: dTlrStars, seps: [[1.5, 103, -13], [5.5, 103, -13]] });
  barPanel({ ...dCommon, left: 428.4, right: 545.9, top: 516, bottom: 593.3, means: dNodMeans, tops: dNodTops, brackets: dNodBrackets, stars: dNodStars, yName: "%CD11b+MHCII+", yGap: 17, seps: [[1.5, 104, -16], [5.5, 104, -16]], showLabels: true, xGap: 39 });
  barPanel({ ...dCommon, left: 580.8, right: 698, top: 516, bottom: 593.3, means: dCasMeans, tops: dCasTops, brackets: dCasBrackets, stars: dCasStars, seps: [[1.5, 104, -16], [5.5, 104, -16]], showLabels: true, xGap: 39 });
  ttl("Wild Type", 486.7, 368.7); text("Exposed", 478, 378); text("Bacteria+", 523.3, 378);
  ttl("Tlr2-/-", 638.7, 372, true); text("Exposed", 629.3, 380); text("Bacteria+", 675, 380);
  ttl("Nod2-/-", 486, 493.7, true); text("Exposed", 478, 504.3); text("Bacteria+", 523.3, 504.3);
  ttl("Casp1-/-", 638, 495, true); text("Exposed", 630, 503.7); text("Bacteria+", 675, 503.7);

  // panel e
  const eCommon = { cats: catsControls, max: 100, interval: 20, barW: 7.5 };
  barPanel({ ...eCommon, left: 78.5, right: 195, top: 696, bottom: 773.3, means: eWtMeans, tops: eWtTops, brackets: eWtBrackets, stars: eWtStars, yName: "%CD11b", yGap: 18, seps: [[1.5, 104, -14], [5.5, 104, -14]] });
  barPanel({ ...eCommon, left: 230.2, right: 346, top: 695.7, bottom: 773.3, means: eTlrMeans, tops: eTlrTops, brackets: eTlrBrackets, stars: eTlrStars, seps: [[1.5, 104, -14], [5.5, 104, -14]] });
  barPanel({ ...eCommon, left: 77.2, right: 193.8, top: 817.7, bottom: 895, means: eNodMeans, tops: eNodTops, brackets: eNodBrackets, stars: eNodStars, yName: "%CD11b", yGap: 18, seps: [[1.5, 104, -13], [5.5, 104, -13]], showLabels: true, xGap: 38 });
  barPanel({ ...eCommon, left: 230.2, right: 346, top: 817.7, bottom: 895, means: eCasMeans, tops: eCasTops, brackets: eCasBrackets, stars: eCasStars, seps: [[1.5, 104, -13], [5.5, 104, -13]], showLabels: true, xGap: 38 });
  ttl("Wild Type", 136.7, 671.3); text("Exposed", 128, 681.3); text("Bacteria+", 173.3, 681.3);
  ttl("Tlr2-/-", 288, 670.3, true); text("Exposed", 275.7, 680.3); text("Bacteria+", 327.3, 680.3);
  ttl("Nod2-/-", 139.3, 800.7, true); text("Exposed", 126, 808.3); text("Bacteria+", 171.3, 808.3);
  ttl("Casp1-/-", 288.3, 802.7, true); text("Exposed", 279.3, 811); text("Bacteria+", 324, 811);

  // panel f
  const fCommon = { cats: catsShort, max: 10, interval: 2, barW: 12.5, yOffset: 3.5, baseline: [[-0.7, 0], [5.72, 0]] };
  barPanel({ ...fCommon, left: 431.8, right: 541.8, top: 695.7, bottom: 773.3, means: fWtMeans, tops: fWtTops, yName: "%7-AAD⁺", yGap: 14, seps: [[1.5, 10, -0.55]] });
  barPanel({ ...fCommon, left: 583.8, right: 693.8, top: 695.7, bottom: 773.3, means: fTlrMeans, tops: fTlrTops, stars: fTlrStars, seps: [[1.5, 10, -0.55]] });
  barPanel({ ...fCommon, left: 431.8, right: 541.8, top: 817, bottom: 894.7, means: fNodMeans, tops: fNodTops, yName: "%7-AAD⁺", yGap: 14, seps: [[1.5, 10, -0.55]], showLabels: true, xGap: 38 });
  barPanel({ ...fCommon, left: 583.8, right: 693.8, top: 817, bottom: 894.7, means: fCasMeans, tops: fCasTops, seps: [[1.5, 10, -0.55]], showLabels: true, xGap: 38 });
  ttl("Wild Type", 486.7, 673.7); text("Bacteria+", 505.3, 687.3);
  ttl("Tlr2-/-", 638.7, 673.7, true); text("Bacteria+", 657.3, 687.3);
  ttl("Nod2-/-", 486, 795.7, true); text("Bacteria+", 505.3, 808.7);
  ttl("Casp1-/-", 638.3, 796, true); text("Bacteria+", 657.3, 808.7);

  // flow panels
  const flowText = { fontFamily: SANS, fontSize: 4.5, color: "#666" };
  function flowPanel(p: any) {
    const g = grid.length;
    const S = 3;
    const xMax = p.r - p.x0;
    grid.push({ show: true, borderColor: "#aaaaaa", borderWidth: p.border ?? 1, left: p.x0 / S, top: p.t / S, width: xMax / S, height: (p.b - p.t) / S });
    xAxis.push({
      type: "value", gridIndex: g, min: 0, max: xMax, interval: 50, name: "FSC", nameLocation: "middle", nameGap: p.xGap, nameTextStyle: flowText,
      axisLine: { lineStyle: { color: "#888", width: 0.5 } }, axisTick: { length: 2, lineStyle: { color: "#888", width: 0.5 } },
      minorTick: { show: true, length: 1, splitNumber: 5, lineStyle: { color: "#aaa", width: 0.4 } },
      axisLabel: { ...flowText, margin: 3, formatter: (v: number) => (v === 0 ? "0" : `${v}K`) }, splitLine: { show: false },
    });
    const ix = xAxis.length - 1;
    const linear = p.linear;
    yAxis.push({
      type: "value", gridIndex: g, min: linear ? 0 : (p.y0 - p.b) / 45, max: linear ? p.y0 - p.t : (p.y0 - p.t) / 45,
      ...(linear ? { interval: 50 } : {}),
      name: p.yName, nameLocation: "middle", nameGap: p.yGap, nameRotate: 90, nameTextStyle: flowText,
      axisLine: { show: true, lineStyle: { color: "#888", width: 0.5 } },
      axisTick: { show: true, length: 2, lineStyle: { color: "#888", width: 0.5 }, ...(linear ? {} : { customValues: tickDecades }) },
      axisLabel: linear
        ? { ...flowText, margin: 3, formatter: (v: number) => (v === 0 ? "0" : `${v}K`) }
        : { ...flowText, margin: 3, customValues: tickDecades, formatter: (v: number) => tickDecadeLabels[String(v)] ?? "" },
      splitLine: { show: false },
    });
    const iy = yAxis.length - 1;
    const L = (pts: number[][], color: string, width: number, smooth: any) =>
      series.push({ type: "line", xAxisIndex: ix, yAxisIndex: iy, data: pts, symbol: "none", showSymbol: false, smooth, clip: false, silent: true, lineStyle: { color, width }, z: 2 });
    (p.contours ?? []).forEach((c: number[][]) => L([...c, c[0]], "#7c7c7c", 0.5, 0.35));
    series.push({ type: "scatter", xAxisIndex: ix, yAxisIndex: iy, data: p.points, symbolSize: 1, silent: true, itemStyle: { color: "#444" }, z: 2 });
    if (p.cluster) series.push({ type: "scatter", xAxisIndex: ix, yAxisIndex: iy, data: p.cluster, symbolSize: 4, silent: true, itemStyle: { color: "#111" }, z: 2 });
    if (p.gate) L(p.gate, "#999", p.gateW ?? 0.8, false);
    if (p.event) series.push({ type: "scatter", xAxisIndex: ix, yAxisIndex: iy, data: [[0, 0]], symbol: "rect", symbolSize: [2, 4], clip: false, silent: true, itemStyle: { color: "#111" }, z: 3 });
  }
  const rectGate = (x1: number, x2: number, yLo: number, yHi: number) => [[x1, yLo], [x2, yLo], [x2, yHi], [x1, yHi], [x1, yLo]];
  flowPanel({ x0: 162, r: 428, t: 3, b: 267, y0: 267, linear: true, yName: "SSC", yGap: 21, xGap: 15, points: p1Points, cluster: p1Cluster, gate: p1Gate });
  flowPanel({ x0: 512, r: 775, t: 12, b: 272, y0: 217, yName: "7AAD-PerCP", yGap: 19, xGap: 14, contours: p2Contours, points: p2Points, gate: rectGate(0, 263, 0.55, 4.55), gateW: 1.6, event: true });
  flowPanel({ x0: 878, r: 1135, t: 17, b: 283, y0: 225, yName: "F4/80-PE", yGap: 17.6, xGap: 10, contours: p3Contours, points: p3Points, gate: rectGate(0, 257, 0.5, 4.62), event: true });
  flowPanel({ x0: 139, r: 403, t: 497, b: 752, y0: 703, yName: "Bacteria-Pacific Blue", yGap: 20, xGap: 17, contours: p4Contours, points: p4Points, gate: rectGate(0, 264, 1.73, 4.58), gateW: 1.2, event: true });
  flowPanel({ x0: 521, r: 785, t: 353, b: 622, y0: 562, yName: "CD11b-APC", yGap: 19, xGap: 11, contours: p5Contours, points: p5Points, gate: rectGate(1, 258, 0.31, 4.5), gateW: 1.3, event: true });
  flowPanel({ x0: 877, r: 1137, t: 350, b: 622, y0: 556, yName: "MHCII-PE-Cy7", yGap: 19, xGap: 11, contours: p6Contours, points: p6Points, gate: rectGate(0, 260, 0.33, 4.4), event: true });
  flowPanel({ x0: 513, r: 778, t: 690, b: 958, y0: 897, yName: "CD11b-APC", yGap: 17.6, xGap: 11, contours: p7Contours, points: p7Points, gate: rectGate(0, 265, 0.27, 4.49), gateW: 1.3, event: true });
  flowPanel({ x0: 878, r: 1140, t: 695, b: 965, y0: 900, yName: "MHCII-PE-Cy7", yGap: 20, xGap: 9, contours: p8Contours, points: p8Points, gate: rectGate(0, 262, 0.33, 4.5), event: true });

  // arrows of panel a
  const arrow = (x1: number, y1: number, x2: number, y2: number) => {
    graphic.push({ type: "line", silent: true, shape: { x1, y1, x2, y2 }, style: { stroke: "#222", lineWidth: 0.9 } });
    const a = Math.atan2(y2 - y1, x2 - x1), h = 3.2, w = 1.5;
    const bx = x2 - h * Math.cos(a), by = y2 - h * Math.sin(a);
    graphic.push({ type: "polygon", silent: true, shape: { points: [[x2, y2], [bx - w * Math.sin(a), by + w * Math.cos(a)], [bx + w * Math.sin(a), by - w * Math.cos(a)]] }, style: { fill: "#222" } });
  };
  arrow(128, 65, 155, 65);
  arrow(253, 69, 279, 69);
  arrow(257, 137, 283, 137);
  arrow(136, 198, 161, 184);
  arrow(136, 217, 160, 228);
  arrow(257, 249, 283, 249);

  // panel letters
  const letter = (t: string, x: number, y: number) => text(t, x, y, { fontSize: 22, fontWeight: "bold", fill: "#111" });
  letter("a.", 10, 15);
  letter("b.", 406, 14);
  letter("c.", 45, 358);
  letter("d.", 407, 356);
  letter("e.", 45, 659);
  letter("f.", 409, 656);

  return { animation: false, backgroundColor: "#fff", tooltip: { show: false }, title, grid, xAxis, yAxis, series, graphic };
}

export default function App() {
  const ref = useRef<HTMLDivElement>(null);
  useEffect(() => {
    document.body.style.margin = "0";
    const chart = echarts.init(ref.current!, undefined, { renderer: "svg" });
    chart.setOption(buildOption() as any);
    return () => chart.dispose();
  }, []);
  return <div ref={ref} style={{ position: "absolute", left: 0, top: 0, width: 700, height: 941, willChange: "transform" }} />;
}
